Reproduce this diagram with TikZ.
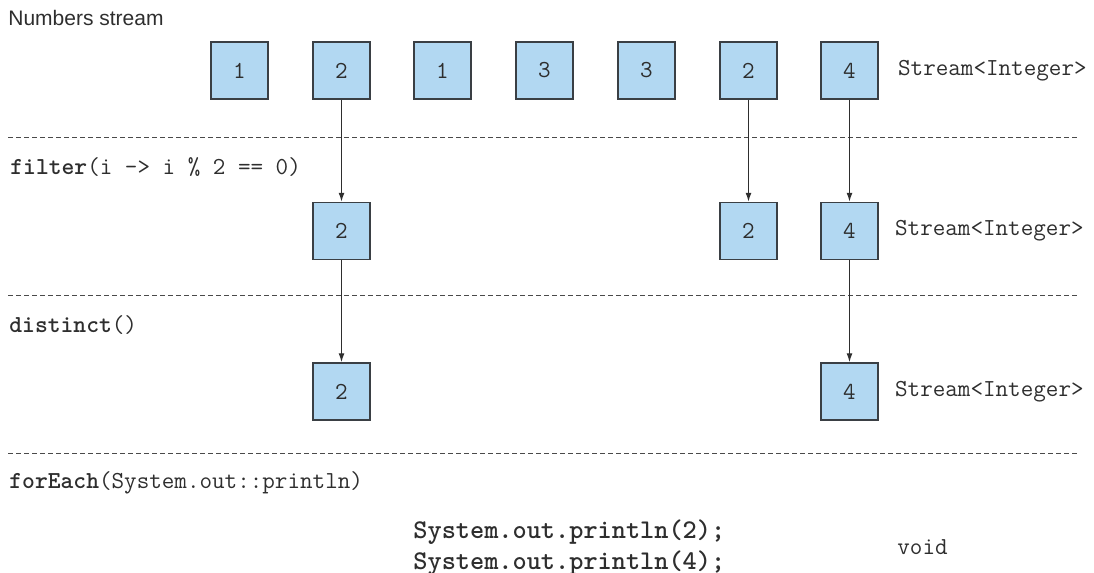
\documentclass[tikz,border=0pt]{standalone}
\usepackage{fontspec}
\setmainfont{Liberation Sans}
\usetikzlibrary{arrows.meta,positioning}
\definecolor{FlowInk}{HTML}{2E2E2E}
\definecolor{FlowBox}{HTML}{B2D8F2}
\definecolor{FlowEdge}{HTML}{3A3F44}
\definecolor{FlowRule}{HTML}{4A4A4A}
\tikzset{
  every node/.style={text=FlowInk},
  item/.style={draw=FlowEdge, line width=0.75pt, fill=FlowBox, minimum size=28.5pt,
    inner sep=0pt, font=\ttfamily\fontsize{12.2}{14}\selectfont},
  code/.style={anchor=west, inner sep=0pt, font=\ttfamily\fontsize{12.2}{14}\selectfont},
  call/.style={anchor=west, inner sep=0pt, font=\ttfamily\bfseries\fontsize{13.5}{16}\selectfont},
  stage/.style={draw=FlowRule, line width=0.5pt, dash pattern=on 2.5pt off 1.5pt},
  flow/.style={-{Latex[length=4.5pt,width=3pt]}, draw=FlowInk, line width=0.6pt},
}

\begin{document}
\begin{tikzpicture}[x=0.5pt,y=-0.5pt]
  \useasboundingbox (0,0) rectangle (1094,573);
  % Stage separators
  \foreach \y in {137,295,453}
    \draw[stage] (8,\y) -- (1078,\y);
  % Source stream
  \node[anchor=west, inner sep=0pt, font=\fontsize{10.5}{12}\selectfont] (title) at (8,18) {Numbers stream};
  \foreach \i/\x/\v in {1/239.5/1, 2/341.5/2, 3/442.5/1, 4/544.5/3, 5/646.5/3, 6/748.5/2, 7/849.5/4}
    \node[item] (n\i) at (\x,70.5) {\v};
  \node[code, right=9.5pt of n7] (t1) {Stream<Integer>};
  % After filter
  \node[code] (lfilter) at (10,167) {\textbf{filter}(i -> i \% 2 == 0)};
  \node[item, below=51pt of n2] (f2) {2};
  \node[item, below=51pt of n6] (f6) {2};
  \node[item, below=51pt of n7] (f7) {4};
  \node[code, right=8pt of f7] (t2) {Stream<Integer>};
  % After distinct
  \node[code] (ldistinct) at (9,325) {\textbf{distinct}()};
  \node[item, below=51pt of f2] (d2) {2};
  \node[item, below=51pt of f7] (d7) {4};
  \node[code, right=8pt of d7] (t3) {Stream<Integer>};
  % Terminal operation
  \node[code] (lforeach) at (9,483) {\textbf{forEach}(System.out::println)};
  \node[call] (p2) at (413,532) {System.out.println(2);};
  \node[call] (p4) at (413,563) {System.out.println(4);};
  \node[code] (tvoid) at (897,547) {void};
  % Elements passing through
  \draw[flow] (n2) -- (f2);
  \draw[flow] (n6) -- (f6);
  \draw[flow] (n7) -- (f7);
  \draw[flow] (f2) -- (d2);
  \draw[flow] (f7) -- (d7);
\end{tikzpicture}
\end{document}
